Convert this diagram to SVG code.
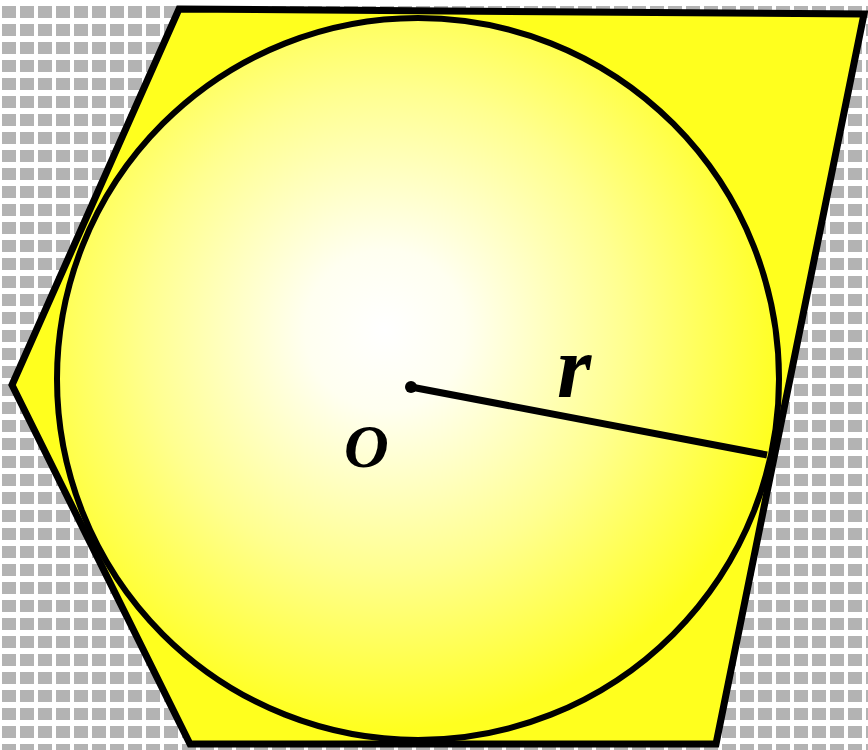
<svg xmlns="http://www.w3.org/2000/svg" width="868" height="750" viewBox="0 0 868 750">
<defs>
<pattern id="grid" x="0" y="0" width="18" height="18" patternUnits="userSpaceOnUse">
<rect width="18" height="18" fill="#ffffff"/>
<rect x="2" y="6" width="14" height="13" fill="#b3b3b3"/>
</pattern>
<radialGradient id="glow" gradientUnits="userSpaceOnUse" cx="385" cy="330" r="400">
<stop offset="0" stop-color="#ffffff"/>
<stop offset="0.2" stop-color="#fffff0"/>
<stop offset="0.6" stop-color="#ffff90"/>
<stop offset="1" stop-color="#ffff20"/>
</radialGradient>
<style>
.edge{stroke:#000;stroke-width:7;stroke-linejoin:miter}
.lbl{font-family:"Liberation Serif","Times New Roman",serif;font-weight:bold;font-style:italic;fill:#000}
</style>
</defs>
<rect width="868" height="750" fill="url(#grid)"/>
<g id="polygon">
<polygon points="179,9 864,14 716,744 190,744 12,385" fill="#ffff1e" class="edge"/>
</g>
<g id="circle">
<circle cx="418" cy="379" r="361" fill="url(#glow)" stroke="#000" stroke-width="6"/>
</g>
<g id="radius">
<line x1="411" y1="387" x2="767" y2="455" stroke="#000" stroke-width="7"/>
<circle cx="411" cy="387" r="6" fill="#000"/>
</g>
<g id="labels">
<text class="lbl" x="557" y="397" font-size="88">r</text>
<text class="lbl" x="344" y="467" font-size="62">O</text>
</g>
</svg>
